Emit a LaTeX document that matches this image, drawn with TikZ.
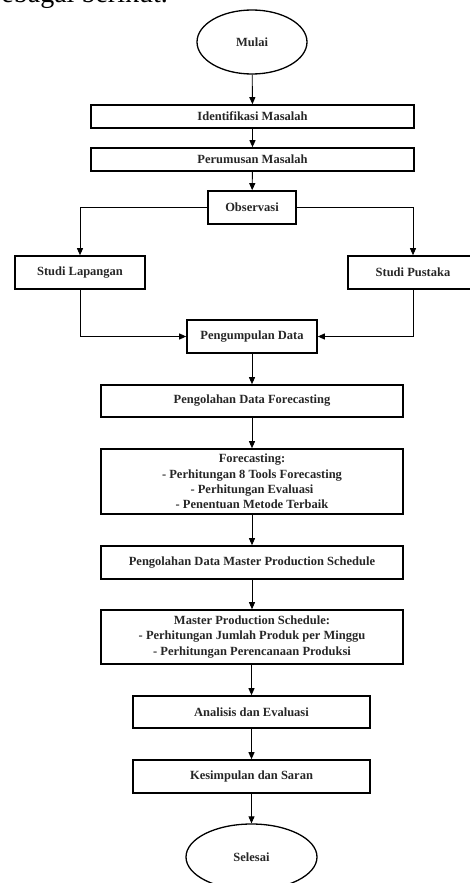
\documentclass[tikz,border=0pt]{standalone}
\usepackage{fontspec}
\setmainfont{Liberation Serif}
\usetikzlibrary{arrows.meta,shapes.geometric}
\begin{document}
\begin{tikzpicture}[x=1pt,y=-1pt,
  boxst/.style={draw, line width=1.6pt, rectangle, inner sep=0pt, align=center,
    font=\fontsize{12.5}{15.3}\selectfont\bfseries, text=black!85},
  ovalst/.style={draw, line width=1.3pt, ellipse, inner sep=0pt,
    font=\fontsize{12.5}{15.3}\selectfont\bfseries, text=black!85},
  conn/.style={line width=0.9pt, -{Triangle[length=7pt,width=6pt]}},
  line/.style={line width=0.9pt}]
\useasboundingbox (0,0) rectangle (470,883);
\clip (0,0) rectangle (470,883);
\node[anchor=base east, inner sep=0pt, font=\fontsize{28}{30}\selectfont] (prev) at (168,3) {sebagai berikut.};
\node[ovalst, minimum width=110pt, minimum height=64pt] (mulai) at (252,42) {Mulai};
\node[boxst, minimum width=323pt, minimum height=23pt] (idm) at (252.5,116.5) {Identifikasi Masalah};
\node[boxst, minimum width=323pt, minimum height=23pt] (pm) at (252.5,159.5) {Perumusan Masalah};
\node[boxst, minimum width=88pt, minimum height=33pt] (obs) at (252,207.5) {Observasi};
\node[boxst, minimum width=130pt, minimum height=33pt] (sl) at (80,272.5) {Studi Lapangan};
\node[boxst, minimum width=130pt, minimum height=33pt] (sp) at (413,272.5) {Studi Pustaka};
\node[boxst, minimum width=130pt, minimum height=33pt] (pd) at (252,336.5) {Pengumpulan Data};
\node[boxst, minimum width=302pt, minimum height=32pt] (pdf) at (252,401) {Pengolahan Data Forecasting};
\node[boxst, minimum width=302pt, minimum height=65pt] (fc) at (252,481.5) {Forecasting:\\- Perhitungan 8 Tools Forecasting\\- Perhitungan Evaluasi\\- Penentuan Metode Terbaik};
\node[boxst, minimum width=302pt, minimum height=33pt] (pmps) at (252,562.5) {Pengolahan Data Master Production Schedule};
\node[boxst, minimum width=302pt, minimum height=54pt] (mps) at (252,637) {Master Production Schedule:\\- Perhitungan Jumlah Produk per Minggu\\- Perhitungan Perencanaan Produksi};
\node[boxst, minimum width=237pt, minimum height=32pt] (ae) at (251.5,712) {Analisis dan Evaluasi};
\node[boxst, minimum width=237pt, minimum height=33pt] (ks) at (251.5,776.5) {Kesimpulan dan Saran};
\node[ovalst, minimum width=131pt, minimum height=66pt] (sel) at (251.5,857) {Selesai};
\draw[conn] (mulai) -- (idm);
\draw[conn] (idm) -- (pm);
\draw[conn] (pm) -- (obs);
\draw[conn] (obs.west) -| (sl.north);
\draw[conn] (obs.east) -| (sp.north);
\draw[conn] (sl.south) |- (pd.west);
\draw[conn] (sp.south) |- (pd.east);
\draw[conn] (pd) -- (pdf);
\draw[conn] (pdf) -- (fc);
\draw[conn] (fc) -- (pmps);
\draw[conn] (pmps) -- (mps);
\draw[conn] (mps.south -| ae.north) -- (ae.north);
\draw[conn] (ae) -- (ks);
\draw[conn] (ks) -- (sel);
\end{tikzpicture}
\end{document}
